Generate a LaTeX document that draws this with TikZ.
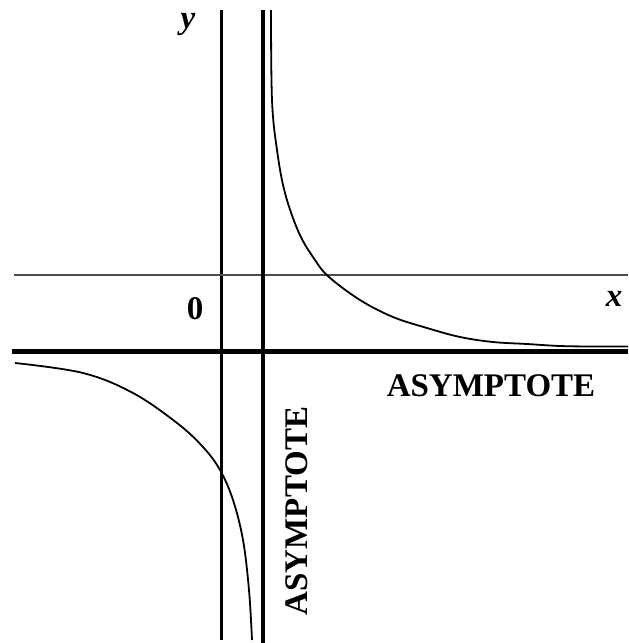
\documentclass[tikz,border=0pt]{standalone}
\usepackage{fontspec}
\setmainfont{Liberation Serif}
\usetikzlibrary{calc}

\begin{document}
\begin{tikzpicture}[x=0.5pt, y=-0.5pt, line join=round, line cap=butt,
    font=\fontsize{16.5}{19}\selectfont]
    \useasboundingbox (0,0) rectangle (628,643);

    % axes and asymptotes
    \coordinate (yTop) at (221.5,10);
    \coordinate (yBot) at (221.5,640);
    \coordinate (xLeft) at (14,275);
    \coordinate (xRight) at (628,275);
    \coordinate (vaTop) at (263,10);
    \coordinate (vaBot) at (263,643);
    \coordinate (haLeft) at (12,351.5);
    \coordinate (haRight) at (628,351.5);

    \draw[line width=1.2pt] (yTop) -- (yBot);
    \draw[line width=1.1pt, black!70] (xLeft) -- (xRight);
    \draw[line width=2.4pt] (vaTop) -- (vaBot);
    \draw[line width=2.4pt] (haLeft) -- (haRight);

    % the two branches
    \draw[line width=0.9pt] plot[smooth, tension=0.6] coordinates {
        (271,10) (272,100) (277,150) (285,193) (299,233) (315,260)
        (329,277) (360,300) (393,317) (427,328) (460,337) (493,342)
        (527,344) (560,346) (593,346.5) (628,346.5)};
    \draw[line width=0.9pt] plot[smooth, tension=0.6] coordinates {
        (15,363) (83,373) (133,393) (177,423) (203,447) (220,470)
        (233,500) (243,540) (249,590) (252,640)};

    % labels
    \node (ylab) at (188,24) {\bfseries\itshape y};
    \node (xlab) at (614,299) {\bfseries\itshape x};
    \node (origin) at (195,309) {\bfseries 0};
    \node (hasym) at (491,386) {\bfseries ASYMPTOTE};
    \node[rotate=90] (vasym) at (297,511) {\bfseries ASYMPTOTE};
\end{tikzpicture}
\end{document}
